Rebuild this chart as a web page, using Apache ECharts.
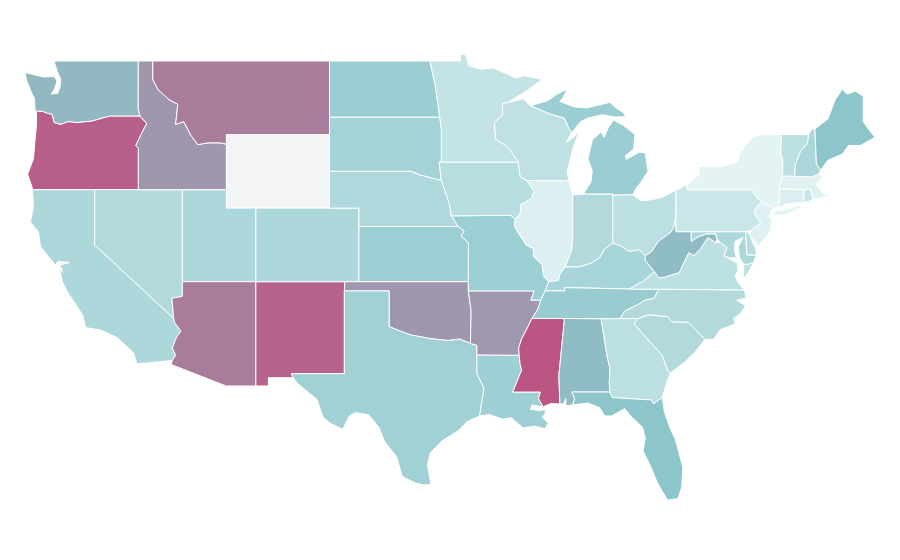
<!DOCTYPE html>
<html><head><meta charset="utf-8">
<style>html,body{margin:0;padding:0;background:#fff}#c{width:900px;height:560px}</style>
<script src="https://cdn.jsdelivr.net/npm/echarts@6/dist/echarts.min.js"></script>
</head><body><div id="c"></div>
<script>
var stateNames=["Washington","Oregon","California","Nevada","Idaho","Montana","Wyoming","Utah","Arizona","New Mexico","Colorado","North Dakota","South Dakota","Nebraska","Kansas","Oklahoma","Texas","Louisiana","Arkansas","Missouri","Iowa","Minnesota","Wisconsin","Michigan","Illinois","Indiana","Ohio","Kentucky","Tennessee","Mississippi","Alabama","Georgia","Florida","South Carolina","North Carolina","Virginia","West Virginia","Maryland","Delaware","Pennsylvania","New York","New Jersey","Connecticut","Rhode Island","Massachusetts","Vermont","New Hampshire","Maine"];
var stateValues=[46,95,26,24,60,80,null,26.5,80,93,26,33.5,30,25,33,60,31,32.5,59,33,22,16.5,18,33.5,5,24,20,28,35,100,44,20,40,24,24,19,44,26,22,14,2,3.5,6,15,4,20,27,40];
var colorStops=["#e8f5f6","#bbdfe2","#8cc6cb","#a096ae","#aa7c9b","#bb5584"];
var outlines={
"Washington":[[[-124.73,48.38],[-123.5,48.13],[-122.75,48.15],[-122.55,47.9],[-122.75,47.45],[-122.95,47.2],[-122.5,47.25],[-122.35,47.6],[-122.3,48],[-122.55,48.45],[-122.76,49],[-117.03,49],[-117.04,46.42],[-116.92,46],[-118.98,46],[-119.3,45.93],[-120.2,45.73],[-121.2,45.65],[-121.8,45.7],[-122.3,45.55],[-122.75,45.65],[-122.9,46.1],[-123.2,46.15],[-123.55,46.26],[-124.05,46.27],[-124.07,46.7],[-124.1,47],[-124.3,47.3],[-124.6,47.9]]],
"Oregon":[[[-124.05,46.27],[-123.55,46.26],[-123.2,46.15],[-122.9,46.1],[-122.75,45.65],[-122.3,45.55],[-121.8,45.7],[-121.2,45.65],[-120.2,45.73],[-119.3,45.93],[-118.98,46],[-116.92,46],[-116.46,45.6],[-116.85,45],[-117.2,44.4],[-117.03,44.25],[-117.03,42],[-120,42],[-124.2,42],[-124.4,42.5],[-124.55,42.85],[-124.15,43.7],[-124.05,44.7],[-123.95,45.5],[-123.95,46.2]]],
"California":[[[-124.2,42],[-120,42],[-120,39],[-114.63,35],[-114.57,34.8],[-114.14,34.3],[-114.43,34],[-114.72,33.4],[-114.5,33],[-114.72,32.72],[-117.12,32.53],[-117.36,33.13],[-118.45,33.95],[-119.6,34.38],[-120.6,34.5],[-120.83,35.2],[-121.85,36.45],[-122.19,37],[-122.4,37.75],[-122.15,37.5],[-122.35,37.9],[-121.7,38.05],[-122.5,38.1],[-122.66,37.9],[-123.68,38.9],[-123.82,39.7],[-124.36,40.25],[-124.16,41.07],[-124.22,41.93]]],
"Nevada":[[[-120,42],[-117.03,42],[-114.04,42],[-114.04,37],[-114.05,36.2],[-114.75,36.1],[-114.63,35],[-120,39]]],
"Idaho":[[[-117.03,49],[-116.05,49],[-116.05,48],[-115.7,47.45],[-114.95,46.9],[-114.35,46.65],[-114.5,45.55],[-113.95,45.7],[-113.45,44.95],[-113,44.45],[-112.3,44.55],[-111.5,44.55],[-111.05,44.48],[-111.05,42],[-114.04,42],[-117.03,42],[-117.03,44.25],[-117.2,44.4],[-116.85,45],[-116.46,45.6],[-116.92,46],[-117.04,46.42]]],
"Montana":[[[-116.05,49],[-104.05,49],[-104.05,45],[-111.05,45],[-111.05,44.48],[-111.5,44.55],[-112.3,44.55],[-113,44.45],[-113.45,44.95],[-113.95,45.7],[-114.5,45.55],[-114.35,46.65],[-114.95,46.9],[-115.7,47.45],[-116.05,48]]],
"Wyoming":[[[-111.05,45],[-104.05,45],[-104.05,41],[-111.05,41]]],
"Utah":[[[-114.04,42],[-111.05,42],[-111.05,41],[-109.05,41],[-109.05,37],[-114.04,37]]],
"Arizona":[[[-114.04,37],[-109.05,37],[-109.05,31.33],[-111.07,31.33],[-114.81,32.5],[-114.72,32.72],[-114.5,33],[-114.72,33.4],[-114.43,34],[-114.14,34.3],[-114.57,34.8],[-114.63,35],[-114.75,36.1],[-114.05,36.2]]],
"New Mexico":[[[-109.05,37],[-103,37],[-103.04,36.5],[-103.04,32],[-106.62,32],[-106.53,31.78],[-108.2,31.78],[-108.2,31.33],[-109.05,31.33]]],
"Colorado":[[[-109.05,41],[-102.05,41],[-102.05,37],[-109.05,37]]],
"North Dakota":[[[-104.05,49],[-97.23,49],[-96.85,47.6],[-96.56,45.94],[-104.05,45.94]]],
"South Dakota":[[[-104.05,45.94],[-96.56,45.94],[-96.45,45.3],[-96.45,43.5],[-96.6,43.5],[-96.45,42.5],[-97.9,42.8],[-98.5,43],[-104.05,43]]],
"Nebraska":[[[-104.05,43],[-98.5,43],[-97.9,42.8],[-96.45,42.5],[-96.1,41.7],[-95.9,41.2],[-95.77,40.58],[-95.31,40],[-102.05,40],[-102.05,41],[-104.05,41]]],
"Kansas":[[[-102.05,40],[-95.31,40],[-94.9,39.75],[-95.1,39.5],[-94.61,39.1],[-94.62,37],[-102.05,37]]],
"Oklahoma":[[[-103,37],[-102.05,37],[-94.62,37],[-94.62,36.5],[-94.43,35.4],[-94.48,33.64],[-95.2,33.88],[-96,33.8],[-96.6,33.85],[-97.2,33.9],[-97.7,33.98],[-98.5,34.1],[-99.2,34.3],[-100,34.56],[-100,36.5],[-103.04,36.5]]],
"Texas":[[[-103.04,36.5],[-100,36.5],[-100,34.56],[-99.2,34.3],[-98.5,34.1],[-97.7,33.98],[-97.2,33.9],[-96.6,33.85],[-96,33.8],[-95.2,33.88],[-94.48,33.64],[-94.04,33.55],[-94.04,33.02],[-94.04,32],[-93.55,31.2],[-93.7,30.5],[-93.85,29.7],[-94.7,29.4],[-95.3,28.9],[-96.4,28.35],[-97.2,27.7],[-97.4,27],[-97.15,25.96],[-97.7,25.95],[-98.2,26.05],[-99.1,26.4],[-99.5,27.5],[-100.3,28.3],[-100.7,29.1],[-101.4,29.77],[-102.3,29.88],[-102.7,29.7],[-103.15,28.98],[-104,29.3],[-104.5,29.65],[-104.9,30.6],[-106.2,31.45],[-106.53,31.78],[-106.62,32],[-103.04,32]]],
"Louisiana":[[[-94.04,33.02],[-91.17,33],[-91.1,32.5],[-91,32.2],[-91.6,31],[-89.73,31],[-89.85,30.65],[-89.55,30.2],[-90.3,30.3],[-90.4,30.05],[-89.75,30],[-89.4,30.05],[-89.4,29.8],[-89.6,29.65],[-89.2,29.3],[-89.4,29],[-90.1,29.15],[-90.9,29.05],[-91.7,29.6],[-92.3,29.53],[-93.2,29.78],[-93.85,29.7],[-93.7,30.5],[-93.55,31.2],[-94.04,32]]],
"Arkansas":[[[-94.62,36.5],[-90.15,36.5],[-90.37,36],[-89.7,36],[-89.9,35.5],[-90.3,35],[-90.6,34.5],[-91,33.9],[-91.2,33.4],[-91.17,33],[-94.04,33.02],[-94.04,33.55],[-94.48,33.64],[-94.43,35.4]]],
"Missouri":[[[-95.77,40.58],[-91.73,40.61],[-91.42,40.38],[-91.5,40.03],[-91.1,39.5],[-90.7,39],[-90.2,38.8],[-90.2,38.4],[-89.6,37.9],[-89.5,37.3],[-89.15,37],[-89.4,36.5],[-89.7,36],[-90.37,36],[-90.15,36.5],[-94.62,36.5],[-94.62,37],[-94.61,39.1],[-95.1,39.5],[-94.9,39.75],[-95.31,40]]],
"Iowa":[[[-96.45,43.5],[-91.22,43.5],[-91.1,42.7],[-90.65,42.5],[-90.15,41.9],[-90.35,41.5],[-91.05,41.2],[-91.1,40.7],[-91.42,40.38],[-91.73,40.61],[-95.77,40.58],[-95.9,41.2],[-96.1,41.7],[-96.45,42.5],[-96.6,43.5]]],
"Minnesota":[[[-97.23,49],[-95.15,49],[-95.15,49.38],[-94.8,49.33],[-94.6,48.75],[-93.8,48.55],[-92.95,48.62],[-92,48.3],[-91.4,48.07],[-90.8,48.2],[-89.6,48],[-90.8,47.3],[-92,46.72],[-92.3,46.7],[-92.29,46.07],[-92.85,45.6],[-92.75,44.75],[-91.9,44.3],[-91.22,43.5],[-96.45,43.5],[-96.45,45.3],[-96.56,45.94],[-96.85,47.6]]],
"Wisconsin":[[[-92,46.72],[-90.9,46.95],[-90.4,46.57],[-89.1,46.13],[-88.1,45.9],[-87.8,45.35],[-87.6,45.1],[-88,44.55],[-87.4,44.9],[-87.05,45.25],[-87.5,44.3],[-87.9,43],[-87.8,42.49],[-90.65,42.5],[-91.1,42.7],[-91.22,43.5],[-91.9,44.3],[-92.75,44.75],[-92.85,45.6],[-92.29,46.07],[-92.3,46.7]]],
"Michigan":[[[-90.4,46.57],[-89.2,46.85],[-88.6,47.2],[-87.9,47.47],[-88.2,47],[-88.4,46.8],[-87.4,46.5],[-86.6,46.45],[-85,46.75],[-84.6,46.45],[-84.1,46.2],[-83.9,45.97],[-84.7,45.95],[-85.5,46.08],[-86.5,45.9],[-87,45.7],[-87.6,45.1],[-87.8,45.35],[-88.1,45.9],[-89.1,46.13]],[[-86.82,41.76],[-84.8,41.76],[-84.8,41.7],[-83.45,41.73],[-83.2,42.1],[-82.9,42.4],[-82.42,43],[-82.6,44],[-83,44.05],[-83.9,43.65],[-83.95,43.85],[-83.4,44.2],[-83.3,45],[-84.1,45.5],[-84.75,45.78],[-85.1,45.4],[-85.4,44.85],[-85.6,45.15],[-86.2,44.7],[-86.5,43.7],[-86.2,43],[-86.3,42.4]]],
"Illinois":[[[-90.65,42.5],[-87.8,42.49],[-87.53,41.72],[-87.53,39.35],[-87.6,38.7],[-88.05,37.8],[-88.4,37.4],[-88.5,37.07],[-89.15,37],[-89.5,37.3],[-89.6,37.9],[-90.2,38.4],[-90.2,38.8],[-90.7,39],[-91.1,39.5],[-91.5,40.03],[-91.42,40.38],[-91.1,40.7],[-91.05,41.2],[-90.35,41.5],[-90.15,41.9]]],
"Indiana":[[[-87.53,41.72],[-86.82,41.76],[-84.8,41.76],[-84.82,39.1],[-85.4,38.75],[-85.7,38.3],[-86.3,38],[-87.1,37.8],[-88.05,37.8],[-87.6,38.7],[-87.53,39.35]]],
"Ohio":[[[-84.8,41.7],[-83.45,41.73],[-82.9,41.4],[-82.2,41.45],[-81.4,41.6],[-80.52,41.98],[-80.52,40.64],[-80.65,40],[-80.85,39.7],[-81.7,39.2],[-82.2,38.6],[-82.6,38.42],[-83,38.73],[-83.7,38.65],[-84.3,38.95],[-84.82,39.1]]],
"Kentucky":[[[-89.15,37],[-88.5,37.07],[-88.4,37.4],[-88.05,37.8],[-87.1,37.8],[-86.3,38],[-85.7,38.3],[-85.4,38.75],[-84.82,39.1],[-84.3,38.95],[-83.7,38.65],[-83,38.73],[-82.6,38.42],[-82.6,38.15],[-81.97,37.54],[-82.7,37.05],[-83.68,36.6],[-88.07,36.68],[-88.07,36.5],[-89.4,36.5]]],
"Tennessee":[[[-89.4,36.5],[-88.07,36.5],[-88.07,36.68],[-83.68,36.6],[-81.68,36.59],[-82,36.1],[-82.6,36],[-83.1,35.75],[-84,35.4],[-84.32,34.99],[-85.6,34.98],[-88.2,35],[-90.3,35],[-89.9,35.5],[-89.7,36]]],
"Mississippi":[[[-90.3,35],[-88.2,35],[-88.1,34.9],[-88.47,31.9],[-88.4,30.35],[-89,30.38],[-89.55,30.2],[-89.85,30.65],[-89.73,31],[-91.6,31],[-91,32.2],[-91.1,32.5],[-91.17,33],[-91.2,33.4],[-91,33.9],[-90.6,34.5]]],
"Alabama":[[[-88.2,35],[-85.6,34.98],[-85.18,32.87],[-85,32.3],[-85.05,31.5],[-85,31],[-87.6,31],[-87.4,30.65],[-87.52,30.3],[-88,30.25],[-88,30.65],[-88.15,30.35],[-88.4,30.35],[-88.47,31.9],[-88.1,34.9]]],
"Georgia":[[[-85.6,34.98],[-83.11,35],[-83.35,34.7],[-82.7,34.1],[-81.45,33],[-81.1,32.2],[-80.9,32.03],[-81.15,31.5],[-81.45,30.7],[-82.05,30.36],[-82.2,30.57],[-84.86,30.7],[-85,31],[-85.05,31.5],[-85,32.3],[-85.18,32.87]]],
"Florida":[[[-87.6,31],[-85,31],[-84.86,30.7],[-82.2,30.57],[-82.05,30.36],[-81.45,30.7],[-81.3,29.9],[-80.9,29],[-80.55,28.4],[-80.05,26.9],[-80.13,25.8],[-80.4,25.2],[-81.1,25.13],[-81.8,26.1],[-82.2,26.9],[-82.75,27.8],[-82.6,28.5],[-82.8,29.1],[-83.6,29.7],[-84,30.1],[-84.9,29.7],[-85.35,29.7],[-85.7,30.15],[-86.5,30.4],[-87.52,30.3],[-87.4,30.65]]],
"South Carolina":[[[-83.35,34.7],[-83.11,35],[-82.35,35.2],[-81.05,35.1],[-80.8,34.82],[-79.67,34.8],[-78.55,33.86],[-79.2,33.2],[-79.9,32.65],[-80.9,32.03],[-81.1,32.2],[-81.45,33],[-82.7,34.1]]],
"North Carolina":[[[-84.32,34.99],[-84,35.4],[-83.1,35.75],[-82.6,36],[-82,36.1],[-81.68,36.59],[-75.87,36.55],[-75.75,36.1],[-76.4,36],[-75.8,35.7],[-76.1,35.3],[-76.6,35],[-76.5,34.7],[-77.5,34.4],[-77.95,33.87],[-78.55,33.86],[-79.67,34.8],[-80.8,34.82],[-81.05,35.1],[-82.35,35.2],[-83.11,35]]],
"Virginia":[[[-83.68,36.6],[-81.68,36.59],[-75.87,36.55],[-76.3,36.95],[-76.5,37.3],[-76.3,37.6],[-76.35,38],[-77,38.3],[-77.25,38.4],[-77.05,38.85],[-77.5,39.12],[-77.83,39.13],[-78.35,39.4],[-78.87,38.77],[-79.3,38.42],[-79.65,38.58],[-80.3,37.5],[-81.25,37.25],[-81.68,37.2],[-81.97,37.54],[-82.7,37.05]],[[-75.95,37.15],[-75.9,37.95],[-75.65,37.95],[-75.25,38.03],[-75.6,37.5]]],
"West Virginia":[[[-82.6,38.42],[-82.2,38.6],[-81.7,39.2],[-80.85,39.7],[-80.65,40],[-80.52,40.64],[-80.52,39.72],[-79.48,39.72],[-79.48,39.2],[-79,39.45],[-78.45,39.6],[-77.83,39.6],[-77.72,39.32],[-77.83,39.13],[-78.35,39.4],[-78.87,38.77],[-79.3,38.42],[-79.65,38.58],[-80.3,37.5],[-81.25,37.25],[-81.68,37.2],[-81.97,37.54],[-82.6,38.15]]],
"Maryland":[[[-79.48,39.72],[-75.79,39.72],[-75.7,38.46],[-75.05,38.45],[-75.25,38.03],[-75.65,37.95],[-75.9,37.95],[-76.2,38.3],[-76.3,38.9],[-75.95,39.4],[-76.5,39.2],[-76.55,38.7],[-76.4,38.3],[-76.9,38.3],[-77.25,38.4],[-77.05,38.85],[-77.5,39.12],[-77.72,39.32],[-77.83,39.6],[-78.45,39.6],[-79,39.45],[-79.48,39.2]]],
"Delaware":[[[-75.79,39.72],[-75.55,39.65],[-75.4,39.3],[-75.1,38.8],[-75.05,38.45],[-75.7,38.46]]],
"Pennsylvania":[[[-80.52,41.98],[-79.76,42.27],[-79.76,42],[-75.35,42],[-75.05,41.6],[-74.7,41.36],[-75.1,41],[-75.2,40.7],[-74.75,40.2],[-75.4,39.8],[-75.79,39.72],[-79.48,39.72],[-80.52,39.72],[-80.52,40.64]]],
"New York":[[[-79.76,42.27],[-78.9,42.85],[-79.05,43.27],[-77.5,43.25],[-76.3,43.5],[-76.2,44],[-75.3,44.85],[-74.7,45],[-73.35,45],[-73.4,44],[-73.25,43.55],[-73.28,42.75],[-73.5,42.05],[-73.5,41.3],[-73.65,41],[-73.92,41],[-74.7,41.36],[-75.05,41.6],[-75.35,42],[-79.76,42]],[[-74,40.6],[-73.75,40.85],[-72.65,41],[-72.3,41.15],[-71.87,41.07],[-73.2,40.62]]],
"New Jersey":[[[-74.7,41.36],[-73.92,41],[-74.2,40.5],[-74,40.4],[-74.1,39.75],[-74.9,38.93],[-75.5,39.5],[-75.4,39.8],[-74.75,40.2],[-75.2,40.7],[-75.1,41]]],
"Connecticut":[[[-73.5,42.05],[-71.8,42.02],[-71.85,41.32],[-72.9,41.25],[-73.65,41],[-73.5,41.3]]],
"Rhode Island":[[[-71.8,42.02],[-71.38,42.02],[-71.2,41.5],[-71.5,41.37],[-71.85,41.32]]],
"Massachusetts":[[[-73.5,42.05],[-73.28,42.75],[-72.46,42.73],[-71.3,42.7],[-70.8,42.87],[-70.6,42.65],[-71,42.3],[-70.65,41.95],[-70.5,41.78],[-70,41.72],[-70.6,41.55],[-71.2,41.5],[-71.38,42.02],[-71.8,42.02]]],
"Vermont":[[[-73.35,45],[-71.5,45],[-71.6,44.5],[-72.05,44.1],[-72.4,43.4],[-72.46,42.73],[-73.28,42.75],[-73.25,43.55],[-73.4,44]]],
"New Hampshire":[[[-71.5,45],[-71.3,45.3],[-71.08,45.3],[-70.98,43.4],[-70.7,43.07],[-70.8,42.87],[-71.3,42.7],[-72.46,42.73],[-72.4,43.4],[-72.05,44.1],[-71.6,44.5]]],
"Maine":[[[-71.08,45.3],[-70.2,45.85],[-69.7,46.9],[-69.23,47.46],[-68.9,47.2],[-68.3,47.36],[-67.8,47.07],[-67.8,45.7],[-67.45,45.3],[-67,44.85],[-68,44.4],[-68.8,44.4],[-69.2,43.95],[-70.2,43.6],[-70.7,43.07],[-70.98,43.4]]]
};
var features=stateNames.map(function(n){
  return {type:"Feature",properties:{name:n},geometry:{type:"MultiPolygon",coordinates:outlines[n].map(function(r){return [r.concat([r[0]])];})}};
});
echarts.registerMap("USA",{type:"FeatureCollection",features:features});
var chart=echarts.init(document.getElementById("c"),null,{renderer:"canvas"});
chart.setOption({
  animation:false,
  backgroundColor:"#fff",
  visualMap:{show:false,type:"continuous",min:0,max:100,inRange:{color:colorStops}},
  series:[{
    type:"map",map:"USA",roam:false,silent:true,
    aspectScale:0.8,left:25,right:25,top:54,bottom:60,
    label:{show:false},
    itemStyle:{areaColor:"#f3f4f6",borderColor:"#fff",borderWidth:1},
    data:stateNames.map(function(n,i){return {name:n,value:stateValues[i]};})
  }]
});
</script></body></html>
